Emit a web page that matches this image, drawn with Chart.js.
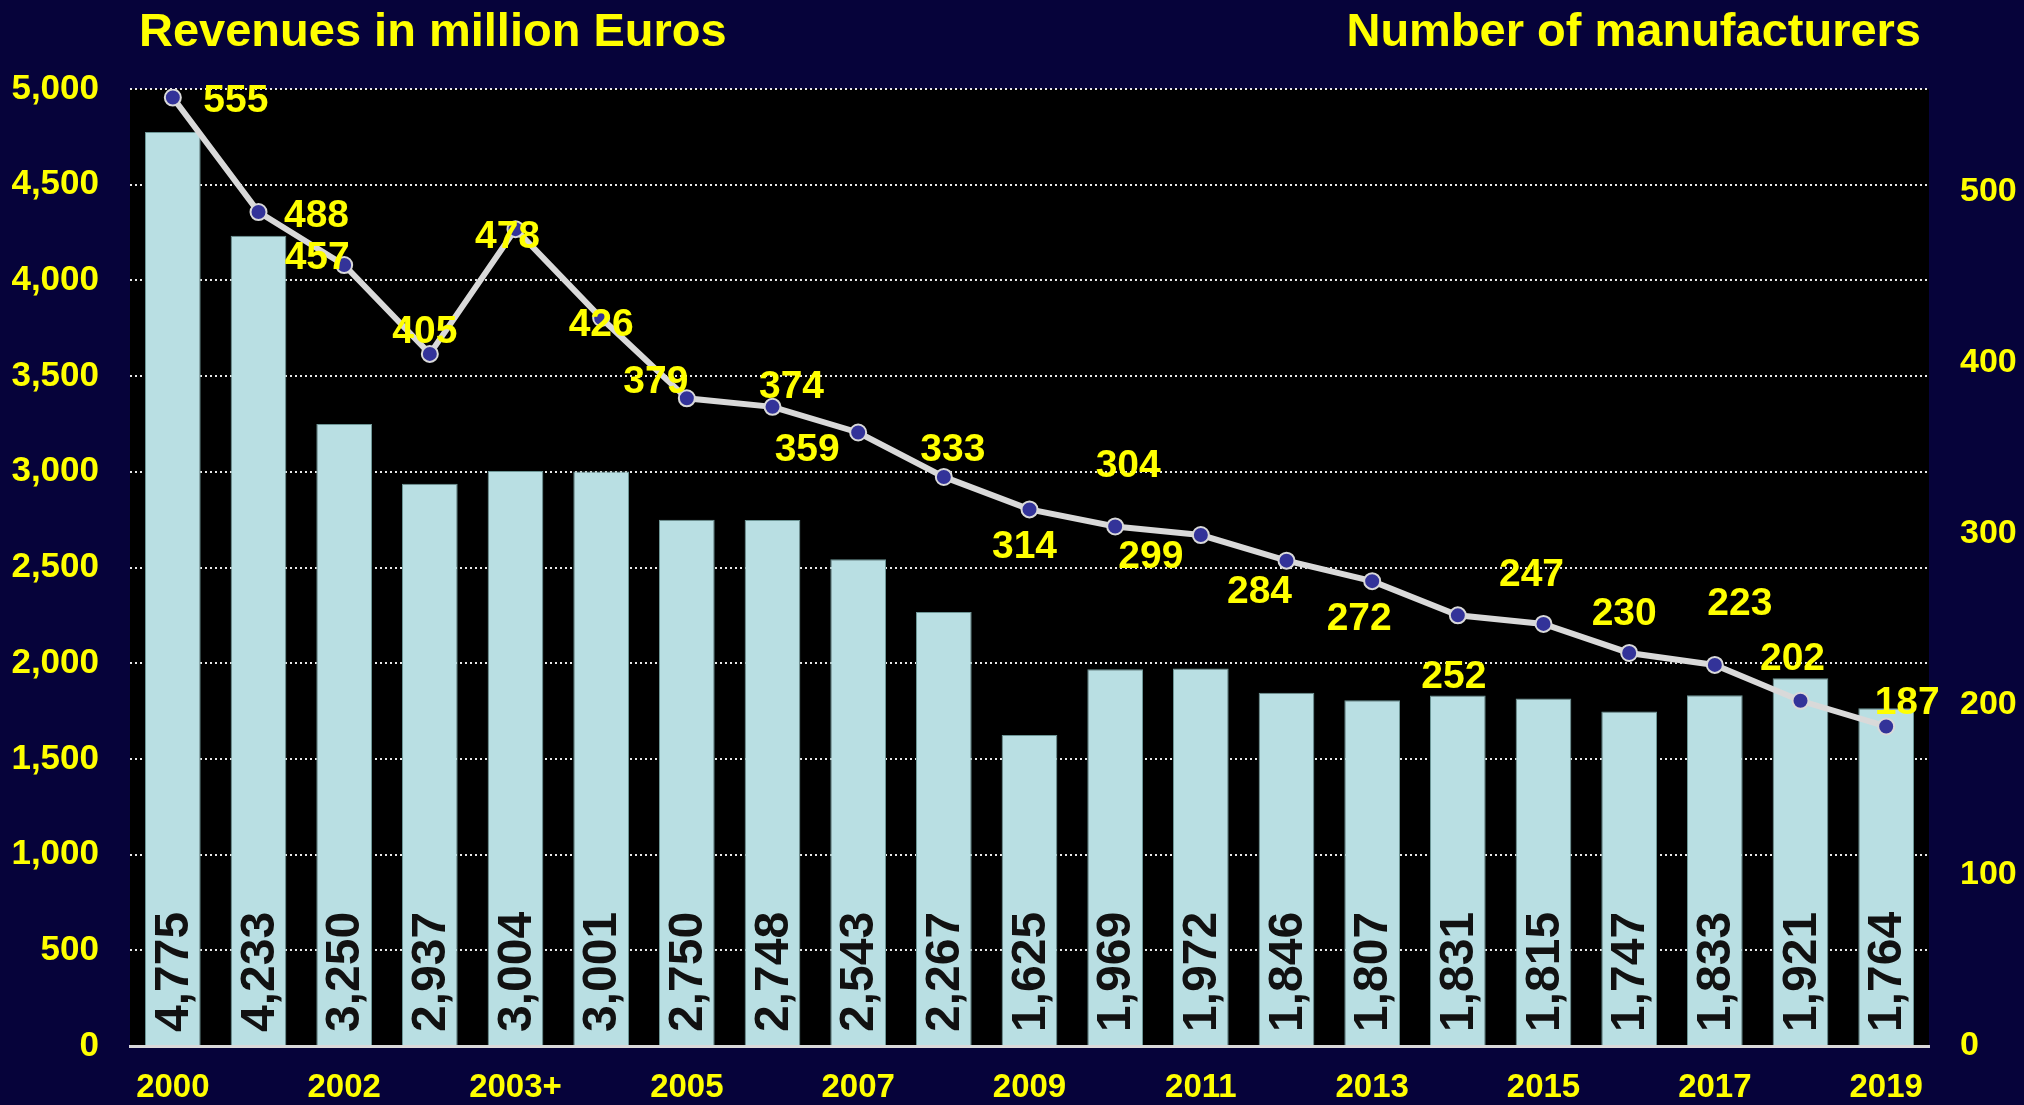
<!DOCTYPE html>
<html>
<head>
<meta charset="utf-8">
<script src="https://cdn.jsdelivr.net/npm/chart.js@4.4.1/dist/chart.umd.min.js"></script>
<style>
  html, body { margin: 0; padding: 0; background: #06033a; }
  #wrap { width: 2024px; height: 1105px; position: relative; }
</style>
</head>
<body>
<div id="wrap"><canvas id="myChart"></canvas></div>
<script>
var years = ['2000', '2001', '2002', '2003', '2003+', '2004', '2005', '2006', '2007', '2008',
  '2009', '2010', '2011', '2012', '2013', '2014', '2015', '2016', '2017', '2018', '2019'];
var revenues = [4775, 4233, 3250, 2937, 3004, 3001, 2750, 2748, 2543, 2267,
  1625, 1969, 1972, 1846, 1807, 1831, 1815, 1747, 1833, 1921, 1764];
var manufacturers = [555, 488, 457, 405, 478, 426, 379, 374, 359, 333,
  314, 304, 299, 284, 272, 252, 247, 230, 223, 202, 187];

// where each manufacturer count sits relative to its dot (px)
var labelOffsets = [[63, 0], [58, 1], [-27, -10], [-5, -25], [-8, 5], [0, 4], [-31, -19],
  [19, -23], [-51, 15], [9, -30], [-5, 35], [13, -63], [-50, 19], [-27, 28], [-13, 35],
  [-4, 59], [-12, -52], [-5, -42], [25, -64], [-8, -45], [21, -26]];

var font = "'Liberation Sans', Arial, sans-serif";
var yellow = '#ffff00';

var plotBg = {
  id: 'plotBg',
  beforeDraw: function (chart) {
    var a = chart.chartArea, ctx = chart.ctx;
    ctx.save();
    ctx.fillStyle = '#000000';
    ctx.fillRect(a.left, a.top, a.right - a.left, a.bottom - a.top);
    ctx.restore();
  }
};

var texts = {
  id: 'texts',
  afterDraw: function (chart) {
    var ctx = chart.ctx;
    ctx.save();
    ctx.fillStyle = yellow;
    ctx.font = "bold 47px " + font;
    ctx.textBaseline = 'alphabetic';
    ctx.textAlign = 'left';
    ctx.fillText('Revenues in million Euros', 139, 46);
    ctx.textAlign = 'right';
    ctx.fillText('Number of manufacturers', 1921, 46);

    // revenue values written up the bars
    var bars = chart.getDatasetMeta(0).data;
    ctx.fillStyle = '#111111';
    ctx.font = "bold 48px " + font;
    ctx.textAlign = 'left';
    ctx.textBaseline = 'middle';
    bars.forEach(function (bar, i) {
      ctx.save();
      ctx.translate(bar.x, bar.base - 13);
      ctx.rotate(-Math.PI / 2);
      ctx.fillText(revenues[i].toLocaleString('en-US'), 0, 2);
      ctx.restore();
    });

    // manufacturer counts next to the dots
    var pts = chart.getDatasetMeta(1).data;
    ctx.fillStyle = yellow;
    ctx.font = "bold 39px " + font;
    ctx.textAlign = 'center';
    ctx.textBaseline = 'alphabetic';
    pts.forEach(function (p, i) {
      var o = labelOffsets[i];
      ctx.fillText(String(manufacturers[i]), p.x + o[0], p.y + o[1] + 14);
    });
    ctx.restore();
  }
};

var chartEl = document.getElementById('myChart');
new Chart(chartEl, {
  data: {
    labels: years,
    datasets: [{
      type: 'bar',
      data: revenues,
      yAxisID: 'y',
      backgroundColor: '#b9dfe3',
      borderColor: '#6d9696',
      borderWidth: 1,
      barPercentage: 0.65,
      categoryPercentage: 1,
      order: 1
    }, {
      type: 'line',
      data: manufacturers,
      yAxisID: 'y1',
      borderColor: '#d9d9d9',
      borderWidth: 6,
      pointRadius: 8,
      pointBackgroundColor: '#333399',
      pointBorderColor: '#d9d9d9',
      pointBorderWidth: 2,
      tension: 0,
      order: 0
    }]
  },
  options: {
    responsive: true,
    maintainAspectRatio: false,
    animation: false,
    layout: { padding: { top: 89, left: 0, right: 0, bottom: 0 } },
    plugins: { legend: { display: false }, tooltip: { enabled: false } },
    scales: {
      x: {
        grid: { display: false, drawTicks: false },
        border: { color: '#d9d9d9', width: 3 },
        ticks: {
          color: yellow,
          font: { family: font, size: 33, weight: 'bold' },
          autoSkip: false,
          maxRotation: 0,
          padding: 22,
          callback: function (v, i) { return i % 2 === 0 ? years[i] : ''; }
        },
        afterFit: function (s) { s.height = 59; }
      },
      y: {
        position: 'left',
        min: 0,
        max: 5000,
        grid: {
          color: function (c) { return c.tick.value === 0 ? 'rgba(0,0,0,0)' : '#e8e8e8'; },
          lineWidth: 2,
          drawTicks: false
        },
        border: { display: false, dash: [2, 3] },
        ticks: {
          stepSize: 500,
          color: yellow,
          padding: 31,
          font: { family: font, size: 35, weight: 'bold' },
          callback: function (v) { return v.toLocaleString('en-US'); }
        },
        afterFit: function (s) { s.width = 130; }
      },
      y1: {
        position: 'right',
        min: 0,
        max: 560,
        grid: { display: false, drawTicks: false },
        border: { display: false },
        ticks: {
          stepSize: 100,
          color: yellow,
          padding: 31,
          font: { family: font, size: 34, weight: 'bold' }
        },
        afterBuildTicks: function (s) {
          s.ticks = s.ticks.filter(function (t) { return t.value % 100 === 0; });
        },
        afterFit: function (s) { s.width = 95; }
      }
    }
  },
  plugins: [plotBg, texts]
});
</script>
</body>
</html>
